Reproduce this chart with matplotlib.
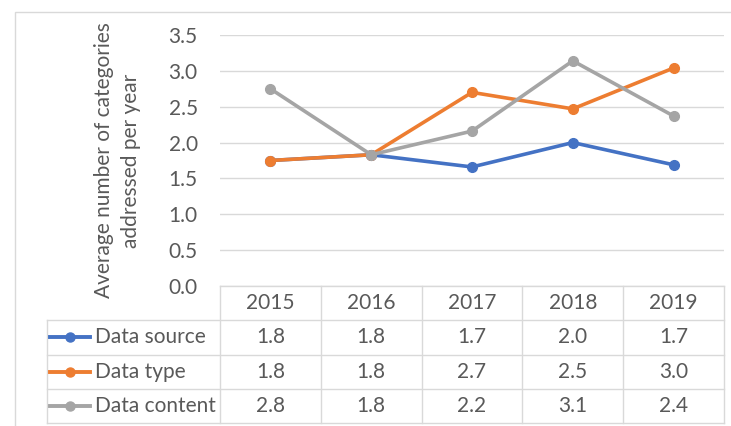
import matplotlib
matplotlib.use('Agg')
import matplotlib.pyplot as plt
from matplotlib.lines import Line2D
from matplotlib.patches import Rectangle

plt.rcParams['font.family'] = ['Lato', 'DejaVu Sans']

years = ['2015', '2016', '2017', '2018', '2019']
series_names = ['Data source', 'Data type', 'Data content']
data_source = [1.75, 1.83, 1.66, 2.00, 1.69]
data_type = [1.75, 1.83, 2.70, 2.47, 3.04]
data_content = [2.75, 1.83, 2.16, 3.14, 2.37]
series = [data_source, data_type, data_content]
colors = ['#4472C4', '#ED7D31', '#A5A5A5']
yticks = [0.0, 0.5, 1.0, 1.5, 2.0, 2.5, 3.0, 3.5]

W, H = 731, 426
txt = '#595959'
grid = '#D9D9D9'
fs = 15

fig = plt.figure(figsize=(W / 100, H / 100), dpi=100)

def frac(x0, y0, x1, y1):
    # pixel box (top-left origin) -> figure fraction rect
    return [x0 / W, 1 - y1 / H, (x1 - x0) / W, (y1 - y0) / H]

# chart border
fig.patches.append(Rectangle((15 / W, -0.1), 1.2, 1 - 12 / H + 0.1, transform=fig.transFigure,
                             fill=False, edgecolor=grid, lw=1))

# plot area
ax = fig.add_axes(frac(220, 35, 724, 286))
x = list(range(len(years)))
for vals, c, name in zip(series, colors, series_names):
    ax.plot(x, vals, color=c, lw=2.6, marker='o', ms=7, label=name, solid_capstyle='round')
ax.set_xlim(-0.5, len(years) - 0.5)
ax.set_ylim(0, 3.5)
ax.set_yticks(yticks)
ax.set_yticklabels([f'{v:.1f}' for v in yticks])
ax.set_xticks([])
ax.tick_params(axis='y', length=0, pad=16, labelsize=fs, labelcolor=txt)
ax.grid(axis='y', color=grid, lw=1)
ax.set_axisbelow(True)
for s in ax.spines.values():
    s.set_visible(False)
ax.set_ylabel('Average number of categories\naddressed per year', fontsize=fs, color=txt,
              labelpad=20, linespacing=1.4)

# data table under the plot
tb = fig.add_axes(frac(220, 286, 724, 423))
tb.set_xlim(-0.5, len(years) - 0.5)
tb.set_ylim(len(series) + 1, 0)
tb.axis('off')
leftx = -0.5 - (220 - 47) / ((724 - 220) / len(years))
nrow = len(series) + 1

def ln(xs, ys):
    tb.add_line(Line2D(xs, ys, color=grid, lw=1, clip_on=False))

ln([-0.5, len(years) - 0.5], [0, 0])
for r in range(1, nrow + 1):
    ln([leftx, len(years) - 0.5], [r, r])
for i in range(len(years) + 1):
    ln([i - 0.5, i - 0.5], [0, nrow])
ln([leftx, leftx], [1, nrow])

for i, yr in enumerate(years):
    tb.text(i, 0.5, yr, ha='center', va='center', fontsize=fs, color=txt)
for r, (vals, c, name) in enumerate(zip(series, colors, series_names), start=1):
    lx = leftx + 0.03
    tb.add_line(Line2D([lx, lx + 0.4], [r + 0.5, r + 0.5], color=c, lw=2.8, clip_on=False))
    tb.add_line(Line2D([lx + 0.2], [r + 0.5], color=c, marker='o', ms=6.5, clip_on=False))
    tb.text(lx + 0.45, r + 0.5, name, ha='left', va='center', fontsize=fs, color=txt, clip_on=False)
    for i, v in enumerate(vals):
        tb.text(i, r + 0.5, f'{v:.1f}', ha='center', va='center', fontsize=fs, color=txt)

fig.savefig('out.png', dpi=100)
